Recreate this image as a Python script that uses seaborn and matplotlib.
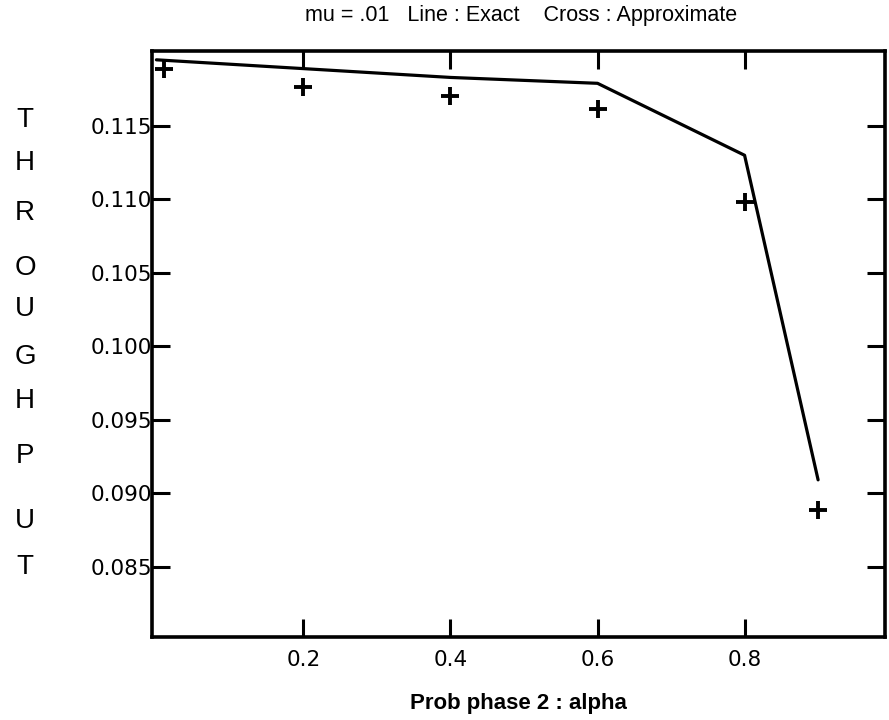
import matplotlib
matplotlib.use("Agg")
import matplotlib.pyplot as plt
import seaborn as sns
import pandas as pd

alpha_exact = [0.0, 0.2, 0.4, 0.6, 0.8, 0.9]
exact = [0.1195, 0.1189, 0.1183, 0.1179, 0.1130, 0.0909]
alpha_approx = [0.01, 0.2, 0.4, 0.6, 0.8, 0.9]
approx = [0.1189, 0.11766, 0.11705, 0.11616, 0.10982, 0.08884]

xticks = [0.2, 0.4, 0.6, 0.8]
xticklabels = ["0.2", "0.4", "0.6", "0.8"]
yticks = [0.085, 0.090, 0.095, 0.100, 0.105, 0.110, 0.115]
yticklabels = ["0.085", "0.090", "0.095", "0.100", "0.105", "0.110", "0.115"]
ylabel_letters = list("THROUGHPUT")
ylabel_pix_y = [120, 163, 213, 268, 309, 357, 401, 456, 521, 567]

title = "mu = .01   Line : Exact    Cross : Approximate"
xlabel = "Prob phase 2 : alpha"

sns.set_theme(style="ticks")
plt.rcParams['font.family'] = ['Liberation Sans', 'DejaVu Sans']

df_exact = pd.DataFrame({"alpha": alpha_exact, "throughput": exact})
df_approx = pd.DataFrame({"alpha": alpha_approx, "throughput": approx})

W, H = 889, 720
fig = plt.figure(figsize=(W / 100, H / 100), dpi=100)
ax = fig.add_axes([152 / W, 1 - 637 / H, (885 - 152) / W, (637 - 51) / H])

sns.lineplot(data=df_exact, x="alpha", y="throughput", ax=ax, color="black",
             linewidth=2.3)
sns.scatterplot(data=df_approx, x="alpha", y="throughput", ax=ax,
                color="black", marker="+", s=170, linewidth=2.8, zorder=5)

ax.set_xlim(-0.006, 0.991)
ax.set_ylim(0.0802, 0.1201)

ax.set_xticks(xticks)
ax.set_xticklabels(xticklabels, fontsize=15.5, family='DejaVu Sans')
ax.set_yticks(yticks)
ax.set_yticklabels(yticklabels, fontsize=15.5, family='DejaVu Sans')

ax.tick_params(axis='x', direction='in', length=13, width=2.2, top=True,
               bottom=True, pad=9, colors='black')
ax.tick_params(axis='y', direction='in', length=13, width=2.2, left=True,
               right=True, pad=0, colors='black')

for s in ax.spines.values():
    s.set_visible(True)
    s.set_linewidth(2.6)
    s.set_color('black')

ax.set_xlabel("")
ax.set_ylabel("")
ax.grid(False)

fig.text(521 / W, 1 - 15 / H, title, ha='center', va='center', fontsize=15.5,
         color='black')
fig.text(518 / W, 1 - 704 / H, xlabel, ha='center', va='center', fontsize=16,
         fontweight='bold', color='black')
for ch, py in zip(ylabel_letters, ylabel_pix_y):
    fig.text(25 / W, 1 - py / H, ch, ha='center', va='center', fontsize=20,
             color='black')

fig.savefig("out.png", dpi=100, facecolor='white')
